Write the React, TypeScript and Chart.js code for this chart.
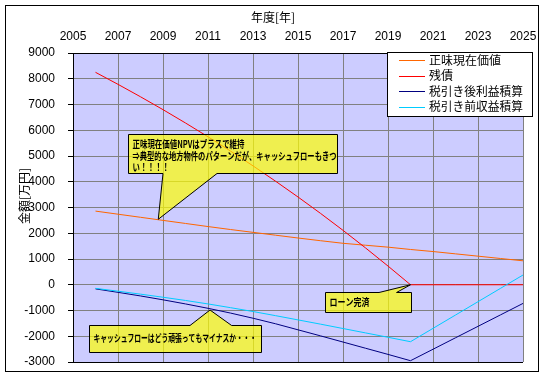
import React, { useEffect, useRef } from "react";
import { Chart, registerables } from "chart.js";

Chart.register(...registerables);

// ---- data ----
const years = [2006, 2007, 2008, 2009, 2010, 2011, 2012, 2013, 2014, 2015, 2016, 2017, 2018, 2019, 2020, 2021, 2022, 2023, 2024, 2025];
const npvValues = [2860, 2740, 2620, 2500, 2380, 2260, 2145, 2035, 1925, 1815, 1710, 1610, 1535, 1460, 1370, 1290, 1200, 1110, 1020, 930];
const loanBalance = [8250, 7783, 7300, 6800, 6282, 5746, 5191, 4617, 4023, 3408, 2772, 2113, 1431, 726, 0, 0, 0, 0, 0, 0];
const afterTaxCumulative = [-160, -295, -435, -585, -745, -915, -1100, -1300, -1515, -1750, -1985, -2225, -2465, -2705, -2950, -2505, -2060, -1615, -1170, -725];
const preTaxCumulative = [-140, -250, -365, -485, -610, -745, -890, -1040, -1200, -1365, -1530, -1700, -1870, -2040, -2212, -1694, -1176, -658, -140, 378];

const seriesNames = ["正味現在価値", "残債", "税引き後利益積算", "税引き前収益積算"];
const seriesColors = ["#FF6600", "#FF0000", "#000080", "#00CCFF"];
const seriesValues = [npvValues, loanBalance, afterTaxCumulative, preTaxCumulative];

const xTitle = "年度[年]";
const yTitle = "金額[万円]";
const xMin = 2005, xMax = 2025, xStep = 2;
const yMin = -3000, yMax = 9000, yStep = 1000;

// callouts: box / pointer in data units
const callouts = [
  {
    lines: ["正味現在価値NPVはプラスで維持", "⇒典型的な地方物件のパターンだが、キャッシュフローもきつ", "い！！！！"],
    maxW: [112, 204, 37],
    box: [2007.44, 2016.73, 5854, 4340],
    edge: "bottom",
    base: [2009.0, 2011.4],
    tip: [2008.79, 2542],
    textTop: 10,
    lineGap: 11.5,
  },
  {
    lines: ["ローン完済"],
    maxW: [40],
    box: [2016.2, 2020.0, -293, -1047],
    edge: "top",
    base: [2018.6, 2019.38],
    tip: [2020, 0],
    textTop: 10,
    lineGap: 12,
  },
  {
    lines: ["キャッシュフローはどう頑張ってもマイナスか・・・"],
    maxW: [163],
    box: [2005.71, 2013.36, -1563, -2612],
    edge: "top",
    base: [2010.2, 2012.05],
    tip: [2011.09, -981],
    textTop: 13,
    lineGap: 12,
  },
];

const JP = '"Noto Sans CJK JP", "Noto Sans", sans-serif';

const decorPlugin = {
  id: "decor",
  beforeDraw(chart: any) {
    const { ctx, chartArea: a } = chart;
    ctx.save();
    ctx.fillStyle = "#FFFFFF";
    ctx.fillRect(0, 0, chart.width, chart.height);
    ctx.fillStyle = "#CCCCFF";
    ctx.fillRect(a.left, a.top, a.right - a.left, a.bottom - a.top);
    ctx.restore();
  },
  afterDatasetsDraw(chart: any) {
    const { ctx } = chart;
    const xs = chart.scales.x, ys = chart.scales.y;
    const px = (v: number) => xs.getPixelForValue(v);
    const py = (v: number) => ys.getPixelForValue(v);
    ctx.save();
    // callouts
    for (const c of callouts) {
      const l = Math.round(px(c.box[0])) + 0.5;
      const r = Math.round(px(c.box[1])) + 0.5;
      const t = Math.round(py(c.box[2])) + 0.5;
      const b = Math.round(py(c.box[3])) + 0.5;
      const b0 = px(c.base[0]), b1 = px(c.base[1]);
      const tx = px(c.tip[0]), ty = py(c.tip[1]);
      ctx.beginPath();
      if (c.edge === "bottom") {
        ctx.moveTo(l, t);
        ctx.lineTo(r, t);
        ctx.lineTo(r, b);
        ctx.lineTo(b1, b);
        ctx.lineTo(tx, ty);
        ctx.lineTo(b0, b);
        ctx.lineTo(l, b);
      } else {
        ctx.moveTo(l, t);
        ctx.lineTo(b0, t);
        ctx.lineTo(tx, ty);
        ctx.lineTo(b1, t);
        ctx.lineTo(r, t);
        ctx.lineTo(r, b);
        ctx.lineTo(l, b);
      }
      ctx.closePath();
      ctx.fillStyle = "rgba(255,255,0,0.69)";
      ctx.fill();
      ctx.strokeStyle = "#000";
      ctx.lineWidth = 1;
      ctx.stroke();
      ctx.fillStyle = "#000";
      ctx.font = `bold 10px ${JP}`;
      ctx.textAlign = "left";
      ctx.textBaseline = "middle";
      c.lines.forEach((s, i) => {
        ctx.fillText(s, l + 4, t + c.textTop + i * c.lineGap, c.maxW[i]);
      });
    }
    // legend
    const lx0 = 387, ly0 = 52, lw = 145, lh = 64;
    ctx.fillStyle = "#FFFFFF";
    ctx.fillRect(lx0, ly0, lw, lh);
    ctx.strokeStyle = "#000";
    ctx.lineWidth = 1;
    ctx.strokeRect(lx0 + 0.5, ly0 + 0.5, lw, lh);
    const rows = [60, 75.5, 91, 106.5];
    chart.data.datasets.forEach((ds: any, i: number) => {
      const y = Math.round(rows[i]) + 0.5;
      ctx.strokeStyle = ds.borderColor;
      ctx.beginPath();
      ctx.moveTo(399, y);
      ctx.lineTo(425, y);
      ctx.stroke();
      ctx.fillStyle = "#000";
      ctx.font = `12px ${JP}`;
      ctx.textAlign = "left";
      ctx.textBaseline = "middle";
      ctx.fillText(ds.label, 429, rows[i], 94);
    });
    ctx.restore();
  },
  afterDraw(chart: any) {
    const { ctx, chartArea: a } = chart;
    ctx.save();
    // bottom edge of plot
    ctx.strokeStyle = "#000";
    ctx.lineWidth = 1;
    ctx.beginPath();
    ctx.moveTo(a.left, Math.round(a.bottom) + 0.5);
    ctx.lineTo(a.right, Math.round(a.bottom) + 0.5);
    ctx.stroke();
    // titles
    ctx.fillStyle = "#000";
    ctx.font = `12px ${JP}`;
    ctx.textAlign = "center";
    ctx.textBaseline = "middle";
    ctx.fillText(xTitle, 273, 17);
    ctx.translate(24, 196);
    ctx.rotate(-Math.PI / 2);
    ctx.fillText(yTitle, 0, 0);
    ctx.setTransform(1, 0, 0, 1, 0, 0);
    // outer frame
    ctx.strokeStyle = "#000";
    ctx.strokeRect(5.5, 5.5, 533, 366);
    ctx.restore();
  },
};

const zeroPad = (s: any) => {
  s.paddingTop = 0;
  s.paddingBottom = 0;
  s.paddingLeft = 0;
  s.paddingRight = 0;
};

export default function App() {
  const ref = useRef<HTMLCanvasElement | null>(null);
  useEffect(() => {
    document.body.style.margin = "0";
    const canvas = ref.current!;
    const datasets = seriesNames.map((name, i) => ({
      label: name,
      data: years.map((yr, k) => ({ x: yr, y: seriesValues[i][k] })),
      borderColor: seriesColors[i],
      backgroundColor: seriesColors[i],
      borderWidth: 1,
      pointRadius: 0,
      tension: 0,
      fill: false,
      order: seriesNames.length - 1 - i,
    }));
    const chart = new Chart(canvas, {
      type: "line",
      data: { datasets },
      options: {
        animation: false,
        responsive: false,
        devicePixelRatio: 1,
        layout: { padding: { left: 0, top: 0, right: 21, bottom: 14 } },
        plugins: { legend: { display: false }, tooltip: { enabled: false } },
        scales: {
          x: {
            type: "linear",
            position: "top",
            min: xMin,
            max: xMax,
            afterFit: (s: any) => { s.height = 53; zeroPad(s); },
            afterBuildTicks: (s: any) => {
              const t = [];
              for (let v = xMin; v <= xMax; v += xStep) t.push({ value: v });
              s.ticks = t;
            },
            ticks: {
              callback: (v: any) => String(v),
              color: "#000",
              font: { family: "Liberation Sans", size: 12 },
              padding: 9,
              maxRotation: 0,
              autoSkip: false,
            },
            grid: { color: "#808080", lineWidth: 1, drawTicks: false },
            border: { color: "#000", width: 1 },
          },
          y: {
            type: "linear",
            min: yMin,
            max: yMax,
            afterFit: (s: any) => { s.width = 73; zeroPad(s); },
            ticks: {
              stepSize: yStep,
              callback: (v: any) => String(v),
              color: "#000",
              font: { family: "Liberation Sans", size: 12 },
              padding: 13,
              autoSkip: false,
            },
            grid: { color: "#808080", lineWidth: 1, tickColor: "#000", tickLength: 5 },
            border: { color: "#000", width: 1 },
          },
        },
      },
      plugins: [decorPlugin],
    } as any);
    return () => chart.destroy();
  }, []);
  return <canvas ref={ref} width={544} height={376} style={{ display: "block" }} />;
}
